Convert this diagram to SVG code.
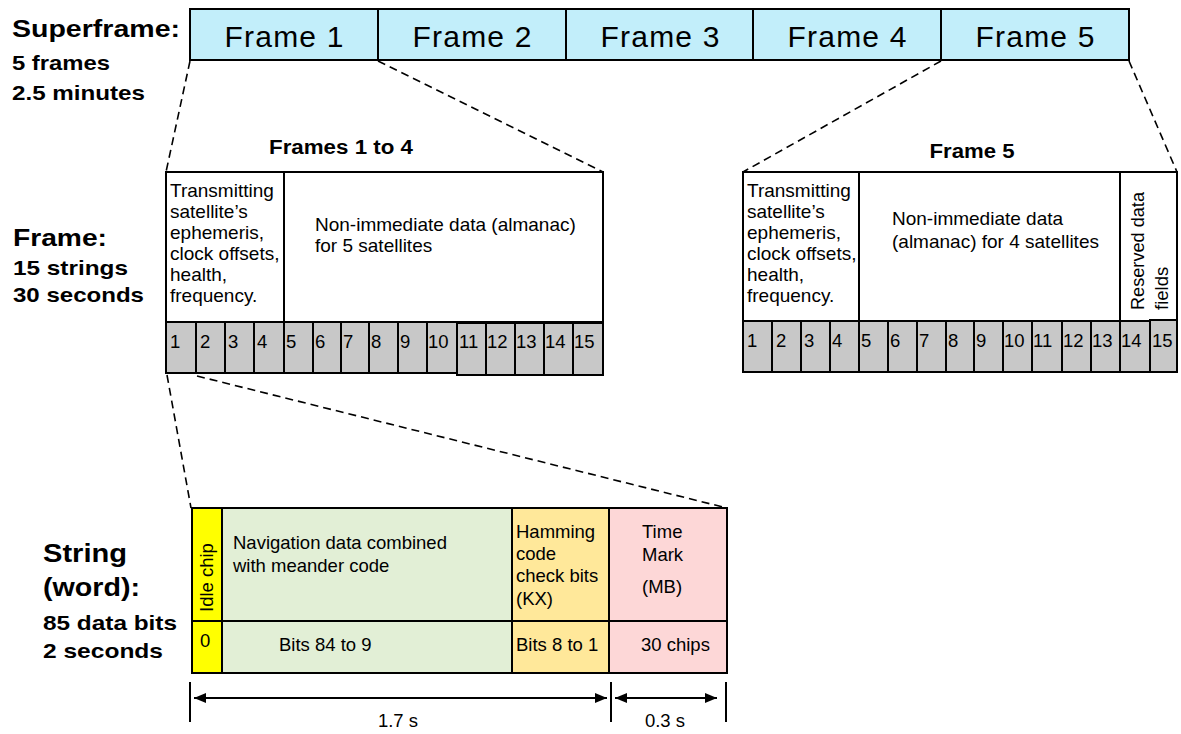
<svg xmlns="http://www.w3.org/2000/svg" width="1181" height="734" viewBox="0 0 1181 734">
<defs>
<style>
text{font-family:"Liberation Sans",Arial,sans-serif;fill:#000}
.b{font-weight:bold}
.sf{fill:#C2EEFA;stroke:#000;stroke-width:2}
.wb{fill:#fff;stroke:#000;stroke-width:2}
.cell{fill:#C8C8C8;stroke:#000;stroke-width:2}
.dash{stroke:#000;stroke-width:1.6;stroke-dasharray:8 5;fill:none}
.ln{stroke:#000;stroke-width:2;fill:none}
.fr{font-size:30px;text-anchor:middle}
.tx{font-size:19px}
.num{font-size:18.5px}
.st{font-size:18.5px}
</style>
<marker id="ah" viewBox="0 0 12 10" refX="12" refY="5" markerWidth="12" markerHeight="10" markerUnits="userSpaceOnUse" orient="auto-start-reverse">
<path d="M0,0 L12,5 L0,10 z" fill="#000"/>
</marker>
</defs>

<g id="labels">
<text class="b" x="12" y="37" font-size="24" textLength="168" lengthAdjust="spacingAndGlyphs">Superframe:</text>
<text class="b" x="12" y="70" font-size="21" textLength="98" lengthAdjust="spacingAndGlyphs">5 frames</text>
<text class="b" x="12" y="100" font-size="21" textLength="133" lengthAdjust="spacingAndGlyphs">2.5 minutes</text>
<text class="b" x="13" y="246" font-size="24" textLength="94" lengthAdjust="spacingAndGlyphs">Frame:</text>
<text class="b" x="13" y="275" font-size="21" textLength="115" lengthAdjust="spacingAndGlyphs">15 strings</text>
<text class="b" x="13" y="302" font-size="21" textLength="131" lengthAdjust="spacingAndGlyphs">30 seconds</text>
<text class="b" x="43" y="562" font-size="25" textLength="84" lengthAdjust="spacingAndGlyphs">String</text>
<text class="b" x="43" y="596" font-size="25" textLength="97" lengthAdjust="spacingAndGlyphs">(word):</text>
<text class="b" x="43" y="630" font-size="21" textLength="134" lengthAdjust="spacingAndGlyphs">85 data bits</text>
<text class="b" x="43" y="658" font-size="21" textLength="120" lengthAdjust="spacingAndGlyphs">2 seconds</text>
</g>

<g id="superframe">
<rect class="sf" x="190" y="9" width="188" height="51"/>
<rect class="sf" x="378" y="9" width="188" height="51"/>
<rect class="sf" x="566" y="9" width="187" height="51"/>
<rect class="sf" x="753" y="9" width="188" height="51"/>
<rect class="sf" x="941" y="9" width="188" height="51"/>
<text class="fr" x="284" y="47" textLength="119" lengthAdjust="spacing">Frame 1</text>
<text class="fr" x="472" y="47" textLength="119" lengthAdjust="spacing">Frame 2</text>
<text class="fr" x="660" y="47" textLength="119" lengthAdjust="spacing">Frame 3</text>
<text class="fr" x="847" y="47" textLength="119" lengthAdjust="spacing">Frame 4</text>
<text class="fr" x="1035" y="47" textLength="119" lengthAdjust="spacing">Frame 5</text>
</g>

<g id="connectors">
<line class="dash" x1="190" y1="61" x2="166" y2="172"/>
<line class="dash" x1="378" y1="61" x2="603" y2="172"/>
<line class="dash" x1="941" y1="61" x2="743" y2="172"/>
<line class="dash" x1="1129" y1="61" x2="1177" y2="172"/>
<line class="dash" x1="167" y1="375" x2="191" y2="508"/>
<line class="dash" x1="197" y1="376" x2="727" y2="508"/>
</g>

<g id="frames1to4">
<text class="b" x="341" y="154" font-size="20" text-anchor="middle" textLength="144" lengthAdjust="spacingAndGlyphs">Frames 1 to 4</text>
<rect class="wb" x="166" y="172" width="118" height="150"/>
<rect class="wb" x="284" y="172" width="319" height="150"/>
<g class="tx">
<text x="170" y="197">Transmitting</text>
<text x="170" y="218">satellite’s</text>
<text x="170" y="239">ephemeris,</text>
<text x="170" y="260">clock offsets,</text>
<text x="170" y="281">health,</text>
<text x="170" y="302">frequency.</text>
<text x="315" y="231">Non-immediate data (almanac)</text>
<text x="315" y="252">for 5 satellites</text>
</g>
<rect class="cell" x="166" y="322" width="30" height="51"/>
<rect class="cell" x="196" y="322" width="29" height="51"/>
<rect class="cell" x="225" y="322" width="29" height="51"/>
<rect class="cell" x="254" y="322" width="30" height="51"/>
<rect class="cell" x="284" y="322" width="29" height="51"/>
<rect class="cell" x="313" y="322" width="28" height="51"/>
<rect class="cell" x="341" y="322" width="28" height="51"/>
<rect class="cell" x="369" y="322" width="29" height="51"/>
<rect class="cell" x="398" y="322" width="29" height="51"/>
<rect class="cell" x="427" y="322" width="30" height="51"/>
<rect class="cell" x="457" y="323" width="29" height="52"/>
<rect class="cell" x="486" y="323" width="29" height="52"/>
<rect class="cell" x="515" y="323" width="29" height="52"/>
<rect class="cell" x="544" y="323" width="29" height="52"/>
<rect class="cell" x="573" y="323" width="30" height="52"/>
<g class="num">
<text x="170" y="348">1</text>
<text x="200" y="348">2</text>
<text x="228" y="348">3</text>
<text x="257" y="348">4</text>
<text x="286" y="348">5</text>
<text x="315" y="348">6</text>
<text x="343" y="348">7</text>
<text x="371" y="348">8</text>
<text x="400" y="348">9</text>
<text x="428" y="348">10</text>
<text x="459" y="348">11</text>
<text x="487" y="348">12</text>
<text x="516" y="348">13</text>
<text x="545" y="348">14</text>
<text x="574" y="348">15</text>
</g>
</g>

<g id="frame5">
<text class="b" x="972" y="158" font-size="20" text-anchor="middle" textLength="85" lengthAdjust="spacingAndGlyphs">Frame 5</text>
<rect class="wb" x="743" y="172" width="116" height="149"/>
<rect class="wb" x="859" y="172" width="261" height="149"/>
<rect class="wb" x="1120" y="172" width="57" height="149"/>
<g class="tx">
<text x="747" y="197">Transmitting</text>
<text x="747" y="218">satellite’s</text>
<text x="747" y="239">ephemeris,</text>
<text x="747" y="260">clock offsets,</text>
<text x="747" y="281">health,</text>
<text x="747" y="302">frequency.</text>
<text x="892" y="225">Non-immediate data</text>
<text x="892" y="248">(almanac) for 4 satellites</text>
</g>
<text class="st" transform="translate(1144,310) rotate(-90)" textLength="118" lengthAdjust="spacingAndGlyphs">Reserved data</text>
<text class="st" transform="translate(1168,310) rotate(-90)">fields</text>
<rect class="cell" x="743" y="321" width="29" height="51"/>
<rect class="cell" x="772" y="321" width="29" height="51"/>
<rect class="cell" x="801" y="321" width="29" height="51"/>
<rect class="cell" x="830" y="321" width="29" height="51"/>
<rect class="cell" x="859" y="321" width="29" height="51"/>
<rect class="cell" x="888" y="321" width="29" height="51"/>
<rect class="cell" x="917" y="321" width="29" height="51"/>
<rect class="cell" x="946" y="321" width="28" height="51"/>
<rect class="cell" x="974" y="321" width="29" height="51"/>
<rect class="cell" x="1003" y="321" width="29" height="51"/>
<rect class="cell" x="1032" y="321" width="30" height="51"/>
<rect class="cell" x="1062" y="321" width="29" height="51"/>
<rect class="cell" x="1091" y="321" width="29" height="51"/>
<rect class="cell" x="1120" y="321" width="30" height="51"/>
<rect class="cell" x="1150" y="320" width="27" height="52" stroke-width="2.5"/>
<g class="num">
<text x="747" y="347">1</text>
<text x="776" y="347">2</text>
<text x="804" y="347">3</text>
<text x="832" y="347">4</text>
<text x="861" y="347">5</text>
<text x="890" y="347">6</text>
<text x="919" y="347">7</text>
<text x="948" y="347">8</text>
<text x="976" y="347">9</text>
<text x="1004" y="347">10</text>
<text x="1033" y="347">11</text>
<text x="1063" y="347">12</text>
<text x="1092" y="347">13</text>
<text x="1121" y="347">14</text>
<text x="1152" y="347">15</text>
</g>
</g>

<g id="string">
<rect x="192" y="508" width="30" height="113" fill="#FFFF00" stroke="#000" stroke-width="2"/>
<rect x="192" y="621" width="30" height="52" fill="#FFFF00" stroke="#000" stroke-width="2"/>
<rect x="222" y="508" width="290" height="113" fill="#E2EFD6" stroke="#000" stroke-width="2"/>
<rect x="222" y="621" width="290" height="52" fill="#E2EFD6" stroke="#000" stroke-width="2"/>
<rect x="512" y="508" width="97" height="113" fill="#FFE89A" stroke="#000" stroke-width="2"/>
<rect x="512" y="621" width="97" height="52" fill="#FFE89A" stroke="#000" stroke-width="2"/>
<rect x="609" y="508" width="118" height="113" fill="#FDD7D7" stroke="#000" stroke-width="2"/>
<rect x="609" y="621" width="118" height="52" fill="#FDD7D7" stroke="#000" stroke-width="2"/>
<text class="st" transform="translate(213,612) rotate(-90)">Idle chip</text>
<g class="st">
<text x="233" y="549">Navigation data combined</text>
<text x="233" y="572">with meander code</text>
<text x="200" y="647">0</text>
<text x="279" y="651">Bits 84 to 9</text>
<text x="516" y="538">Hamming</text>
<text x="516" y="560">code</text>
<text x="516" y="582">check bits</text>
<text x="516" y="605">(KX)</text>
<text x="642" y="538">Time</text>
<text x="642" y="561">Mark</text>
<text x="642" y="593">(MB)</text>
<text x="516" y="651">Bits 8 to 1</text>
<text x="641" y="651">30 chips</text>
</g>
</g>

<g id="timing">
<line class="ln" x1="190" y1="682" x2="190" y2="722"/>
<line class="ln" x1="611" y1="682" x2="611" y2="722"/>
<line class="ln" x1="726" y1="682" x2="726" y2="722"/>
<line x1="194" y1="698" x2="607" y2="698" stroke="#000" stroke-width="2" marker-start="url(#ah)" marker-end="url(#ah)"/>
<line x1="615" y1="698" x2="717" y2="698" stroke="#000" stroke-width="2" marker-start="url(#ah)" marker-end="url(#ah)"/>
<text class="st" x="398" y="727" text-anchor="middle">1.7 s</text>
<text class="st" x="665" y="727" text-anchor="middle">0.3 s</text>
</g>
</svg>
